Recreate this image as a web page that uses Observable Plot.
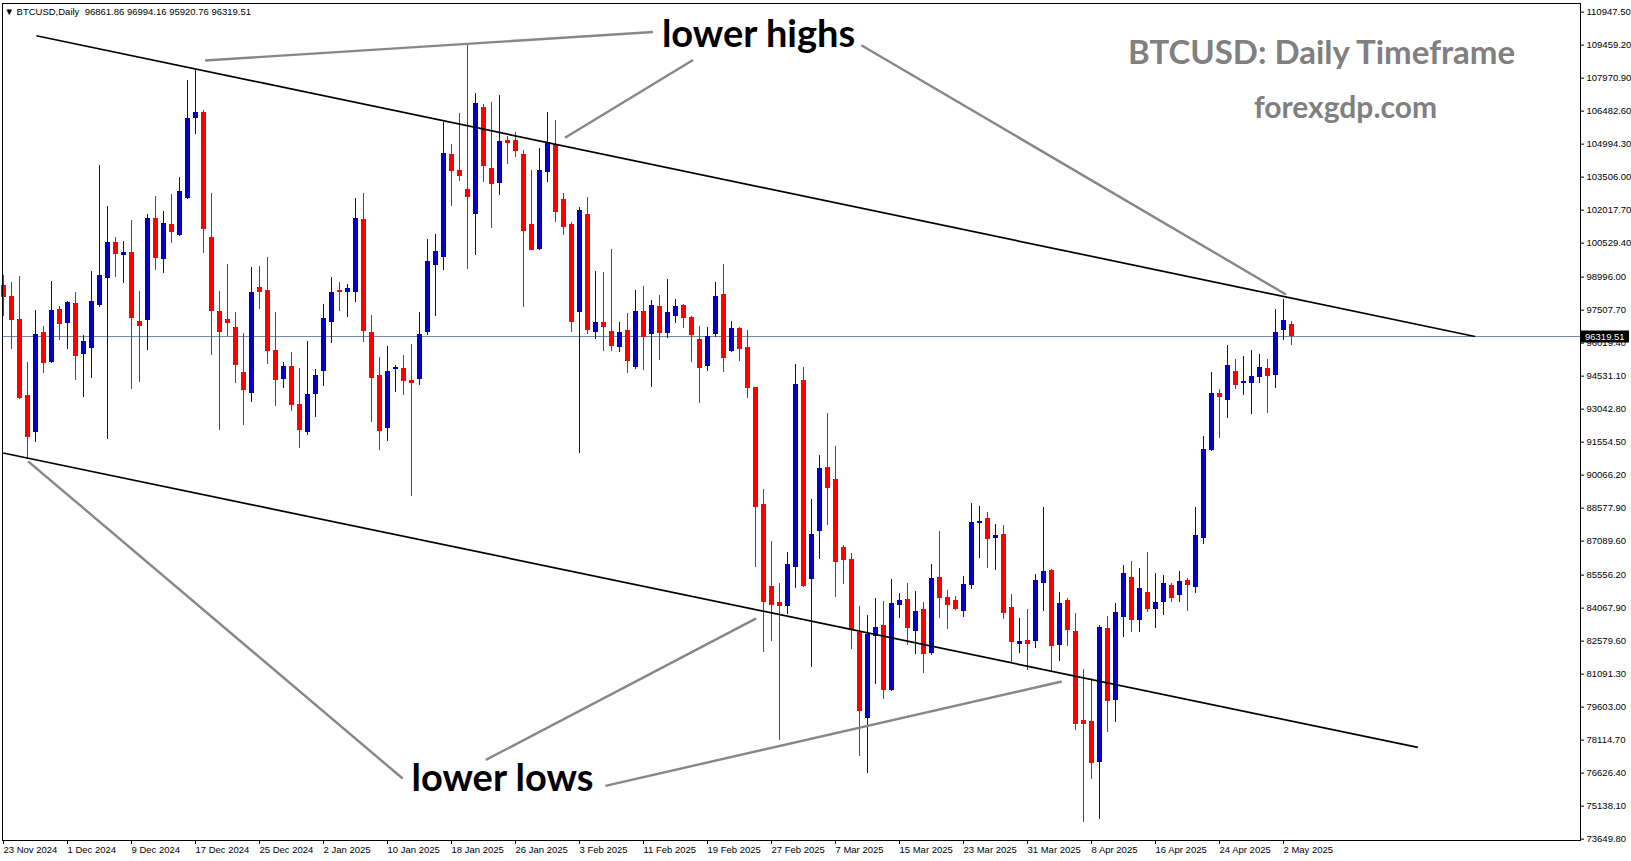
<!DOCTYPE html>
<html>
<head>
<meta charset="utf-8">
<script src="https://cdn.jsdelivr.net/npm/d3@7"></script>
<script src="https://cdn.jsdelivr.net/npm/@observablehq/plot@0.6"></script>
<style>
  html, body { margin: 0; padding: 0; background: #fff; }
  #chart svg { display: block; }
</style>
</head>
<body>
<div id="chart"></div>
<script>
// BTCUSD daily candles, 23 Nov 2024 – 3 May 2025 (one bar per calendar day)
const firstDay = "2024-11-23";

const open = [
  98620, 98130, 97090, 93660, 91990, 96510, 95150, 97540, 96920, 97820,
  95530, 95790, 97700, 98920, 100560, 99990, 100120, 97000, 97050, 101650,
  99800, 101370, 100880, 102540, 106160, 106400, 100800, 97460, 97080, 96730,
  94700, 93750, 98530, 98400, 95690, 94400, 94970, 93270, 91990, 93720,
  94750, 96960, 98410, 98320, 98310, 101610, 96510, 94540, 92180, 94830,
  94880, 94350, 94390, 96500, 99540, 99870, 104530, 103800, 102940, 101830,
  106660, 103900, 103220, 105160, 105160, 104550, 101370, 100240, 103720, 104990,
  102500, 101390, 97420, 101840, 96510, 96950, 96540, 95840, 96590, 94930,
  97450, 96430, 97680, 96450, 97240, 97720, 97180, 96190, 94960, 96400,
  98220, 95640, 96690, 95830, 94000, 88760, 85050, 84340, 84140, 85880,
  94320, 85360, 87520, 90410, 89880, 86810, 86280, 82990, 79080, 82790,
  83290, 80340, 84190, 84460, 83010, 84020, 82010, 85450, 84550, 84420,
  83910, 85080, 87890, 88120, 87210, 87400, 84100, 82430, 82610, 82560,
  85170, 85780, 82380, 84420, 83030, 79010, 78960, 77110, 83170, 79910,
  83650, 85450, 83530, 84780, 84020, 84340, 85080, 84650, 85320, 85020,
  87200, 91180, 93760, 93450, 94730, 94180, 94210, 94480, 94880, 94570,
  96600, 96861.86
];
const high = [
  99080, 98740, 99040, 95130, 97470, 96750, 98810, 97650, 97910, 98320,
  96380, 99270, 104050, 102170, 100790, 100610, 101530, 98360, 101840, 102650,
  101970, 102730, 103500, 107880, 108370, 106530, 102790, 98330, 99580, 97410,
  96470, 99450, 99480, 99900, 97420, 95150, 95610, 94890, 96110, 94840,
  97780, 98990, 98760, 98670, 102560, 102790, 97280, 95390, 95880, 95020,
  95470, 95940, 97410, 100710, 100930, 105990, 104990, 106390, 109480, 107260,
  106800, 106890, 107200, 105340, 105520, 104730, 103820, 104810, 106430, 106080,
  102780, 101480, 102130, 102610, 99260, 99220, 100260, 96960, 97370, 98410,
  98590, 97960, 98180, 98900, 97990, 97770, 97230, 96780, 96730, 98760,
  99580, 97000, 96730, 96600, 94040, 89440, 87090, 85160, 86590, 95050,
  94910, 88990, 90970, 92860, 91340, 86900, 86550, 84120, 83720, 84520,
  84380, 85380, 84730, 85190, 84830, 84330, 86050, 87540, 84870, 84600,
  85500, 88800, 88660, 88390, 87850, 87810, 84690, 83610, 84020, 85600,
  88620, 85800, 84790, 84510, 83840, 81280, 80880, 83290, 83680, 84260,
  86000, 86180, 85870, 86560, 85610, 85550, 85180, 85700, 85420, 88620,
  91820, 94710, 93930, 95930, 95290, 95420, 95690, 95510, 95290, 97540,
  98000, 96994.16
];
const low = [
  97220, 95740, 93480, 90790, 91540, 94660, 95080, 96150, 95740, 94320,
  93580, 94430, 97620, 91660, 98980, 98720, 93920, 94250, 95680, 99300,
  99170, 100520, 100840, 102490, 105440, 100060, 95450, 92080, 96330, 94210,
  92310, 93340, 97550, 95060, 93160, 93990, 92940, 91270, 91860, 92680,
  94070, 96010, 97460, 97190, 97850, 96040, 92440, 91180, 91590, 93810,
  93670, 89100, 94120, 96370, 97220, 99290, 102190, 103320, 99320, 99960,
  103270, 101190, 102680, 104090, 104400, 97620, 100180, 100210, 103270, 101460,
  100880, 96500, 91040, 96410, 96190, 95650, 95640, 95610, 94660, 94840,
  94790, 94020, 95230, 96220, 96900, 96680, 95140, 93290, 94730, 96270,
  94680, 95590, 95190, 93510, 85920, 82090, 82550, 78120, 83770, 84970,
  85020, 81410, 86250, 87780, 84570, 85130, 82190, 77360, 76600, 80610,
  79930, 80310, 83600, 82380, 81970, 81110, 81920, 83590, 83100, 83960,
  83640, 84900, 86300, 85850, 85760, 83540, 81610, 82020, 81250, 82240,
  83900, 81150, 81650, 82330, 78530, 74420, 76320, 74530, 78450, 78910,
  82750, 82970, 82970, 83860, 83130, 83750, 84340, 84330, 83920, 84710,
  86920, 91130, 91740, 92630, 93940, 93670, 92810, 94210, 92860, 93980,
  96150, 95920.76
];
const close = [
  98090, 97040, 93520, 91770, 96420, 95110, 97500, 96880, 97860, 95430,
  96100, 97910, 99060, 100580, 100030, 100110, 97140, 96790, 101660, 99850,
  101420, 101020, 102860, 106160, 106420, 101150, 97450, 96480, 96920, 95020,
  93900, 98320, 98300, 95650, 94350, 94970, 93220, 92090, 93720, 94580,
  97150, 98310, 98320, 98490, 101650, 96540, 94440, 92040, 94750, 94930,
  94300, 94180, 96420, 99710, 100160, 104590, 103780, 103540, 102590, 106850,
  104000, 103180, 105120, 105040, 104680, 101070, 100200, 103820, 105070, 101920,
  101250, 96950, 101990, 96590, 96950, 96740, 95870, 96500, 95200, 97450,
  96290, 97730, 96450, 97400, 97670, 97130, 96370, 94880, 96320, 98130,
  95320, 96680, 95730, 93970, 88600, 84310, 84180, 84160, 86040, 94140,
  85060, 87410, 90380, 89460, 86120, 86220, 83050, 79400, 82900, 83200,
  80340, 84290, 84420, 83150, 83920, 81970, 85420, 84500, 84190, 84010,
  85140, 87940, 87980, 87170, 87350, 83810, 82520, 82560, 82430, 85330,
  85720, 82330, 84290, 83060, 78810, 78830, 77050, 83180, 79870, 83880,
  85650, 83530, 84960, 84020, 84320, 85180, 84510, 85270, 85070, 87350,
  91230, 93760, 93550, 95020, 94130, 94290, 94510, 94920, 94530, 96510,
  97040, 96319.51
];

// Price-scale labels on the right edge
const priceTicks = [
  110947.50, 109459.20, 107970.90, 106482.60, 104994.30, 103506.00, 102017.70,
  100529.40, 98996.00, 97507.70, 96019.40, 94531.10, 93042.80, 91554.50,
  90066.20, 88577.90, 87089.60, 85556.20, 84067.90, 82579.60, 81091.30,
  79603.00, 78114.70, 76626.40, 75138.10, 73649.80
];
// Time-scale labels along the bottom
const dateTicks = [
  "23 Nov 2024", "1 Dec 2024", "9 Dec 2024", "17 Dec 2024", "25 Dec 2024",
  "2 Jan 2025", "10 Jan 2025", "18 Jan 2025", "26 Jan 2025", "3 Feb 2025",
  "11 Feb 2025", "19 Feb 2025", "27 Feb 2025", "7 Mar 2025", "15 Mar 2025",
  "23 Mar 2025", "31 Mar 2025", "8 Apr 2025", "16 Apr 2025", "24 Apr 2025",
  "2 May 2025"
];

// Channel lines (bar number from first day, price)
const channelLines = [
  { d1: 4.11, p1: 109885, d2: 183.94, p2: 96320 },   // falling resistance
  { d1: -0.05, p1: 91065, d2: 176.79, p2: 77788 }    // falling support
];
// Grey pointer lines from the labels to the swing points
const pointerLines = [
  { d1: 25.19, p1: 108767, d2: 81.19, p2: 110052 },
  { d1: 70.19, p1: 105281, d2: 86.19, p2: 108790 },
  { d1: 107.23, p1: 109457, d2: 160.31, p2: 98214 },
  { d1: 3.08, p1: 90691, d2: 49.89, p2: 76385 },
  { d1: 60.29, p1: 77224, d2: 94.09, p2: 83606 },
  { d1: 75.24, p1: 76056, d2: 132.28, p2: 80760 }
];
const callouts = [
  { d: 82.3, p: 109375, text: "lower highs" },
  { d: 51.0, p: 75844, text: "lower lows" }
];

const symbolName = "BTCUSD,Daily";
const watermark = ["BTCUSD: Daily Timeframe", "forexgdp.com"];

// ---- build rows -------------------------------------------------------
const DAY = 864e5;
const t0 = d3.utcParse("%Y-%m-%d")(firstDay).getTime();
const dayToDate = (d) => new Date(t0 + d * DAY);
const candles = open.map((o, i) => ({
  date: dayToDate(i), open: o, high: high[i], low: low[i], close: close[i]
}));
const bull = candles.filter((c) => c.close >= c.open);
const bear = candles.filter((c) => c.close < c.open);
const parseTick = d3.utcParse("%-d %b %Y");
const tickDates = dateTicks.map((s) => parseTick(s));
const tickLabel = new Map(tickDates.map((d, i) => [+d, dateTicks[i]]));
const seg = (rows) => rows.map((r) => ({ x1: dayToDate(r.d1), y1: r.p1, x2: dayToDate(r.d2), y2: r.p2 }));

const last = candles[candles.length - 1];
const fmt = d3.format(".2f");
const BLUE = "#0000cd", RED = "#ff0000";
const axisFont = "'Liberation Sans', Arial, sans-serif";
const noteFont = "Lato, 'Open Sans', sans-serif";

const chart = Plot.plot({
  width: 1631,
  height: 861,
  marginLeft: 2,
  marginRight: 51,
  marginTop: 3,
  marginBottom: 21,
  style: { background: "#fff", color: "#000", fontFamily: axisFont, fontSize: "9.5px" },
  x: { type: "utc", domain: [dayToDate(-0.125), dayToDate(197.125)] },
  y: { domain: [73589.1, 111337.8] },
  marks: [
    // last-price line
    Plot.ruleY([last.close], { stroke: "#778899", strokeWidth: 1 }),
    // wicks
    Plot.ruleX(bull, { x: "date", y1: "low", y2: "high", stroke: BLUE, strokeWidth: 1, shapeRendering: "crispEdges" }),
    Plot.ruleX(bear, { x: "date", y1: "low", y2: "high", stroke: RED, strokeWidth: 1, shapeRendering: "crispEdges" }),
    // bodies
    Plot.ruleX(bull, { x: "date", y1: "open", y2: "close", stroke: BLUE, strokeWidth: 5, shapeRendering: "crispEdges" }),
    Plot.ruleX(bear, { x: "date", y1: "open", y2: "close", stroke: RED, strokeWidth: 5, shapeRendering: "crispEdges" }),
    // channel
    Plot.link(seg(channelLines), { x1: "x1", y1: "y1", x2: "x2", y2: "y2", stroke: "#000", strokeWidth: 1.7 }),
    // pointers
    Plot.link(seg(pointerLines), { x1: "x1", y1: "y1", x2: "x2", y2: "y2", stroke: "#878787", strokeWidth: 2.4 }),
    Plot.text(callouts, {
      x: (c) => dayToDate(c.d), y: "p", text: "text", textAnchor: "start", lineAnchor: "bottom",
      fontFamily: noteFont, fontWeight: "bold", fontSize: 38, fill: "#000"
    }),
    // watermark
    Plot.text([watermark[0]], {
      frameAnchor: "top-right", dx: -259, dy: 60.5, textAnchor: "middle", lineAnchor: "bottom",
      fontFamily: noteFont, fontWeight: "bold", fontSize: 33, fill: "#808080"
    }),
    Plot.text([watermark[1]], {
      frameAnchor: "top-right", dx: -235, dy: 114.5, textAnchor: "middle", lineAnchor: "bottom",
      fontFamily: noteFont, fontWeight: "bold", fontSize: 30, fill: "#808080"
    }),
    // symbol header
    Plot.text([`\u25BC ${symbolName}  ${fmt(last.open)} ${fmt(last.high)} ${fmt(last.low)} ${fmt(last.close)}`], {
      frameAnchor: "top-left", dx: 2, dy: 8, textAnchor: "start", lineAnchor: "middle", fontSize: 9.5, fill: "#000"
    }),
    Plot.frame({ stroke: "#000" }),
    Plot.axisY({
      anchor: "right", ticks: priceTicks, tickFormat: fmt, tickSize: 3, tickPadding: 3, label: null
    }),
    Plot.axisX({
      anchor: "bottom", ticks: tickDates, tickFormat: (d) => tickLabel.get(+d), tickSize: 4, tickPadding: 2,
      textAnchor: "start", dx: 0, label: null
    })
  ]
});

// last-price tag on the price scale
const yScale = chart.scale("y");
const xRight = 1580;
const yPrice = yScale.apply(last.close);
const tag = d3.select(chart).append("g");
tag.append("rect")
  .attr("x", xRight + 1).attr("y", yPrice - 5.5)
  .attr("width", 48).attr("height", 12)
  .attr("fill", "#000");
tag.append("text")
  .attr("x", xRight + 5).attr("y", yPrice + 0.5)
  .attr("dy", "0.32em")
  .attr("text-anchor", "start")
  .attr("fill", "#fff")
  .attr("font-family", axisFont)
  .attr("font-size", "9.5px")
  .text(fmt(last.close));

document.getElementById("chart").appendChild(chart);
</script>
</body>
</html>
